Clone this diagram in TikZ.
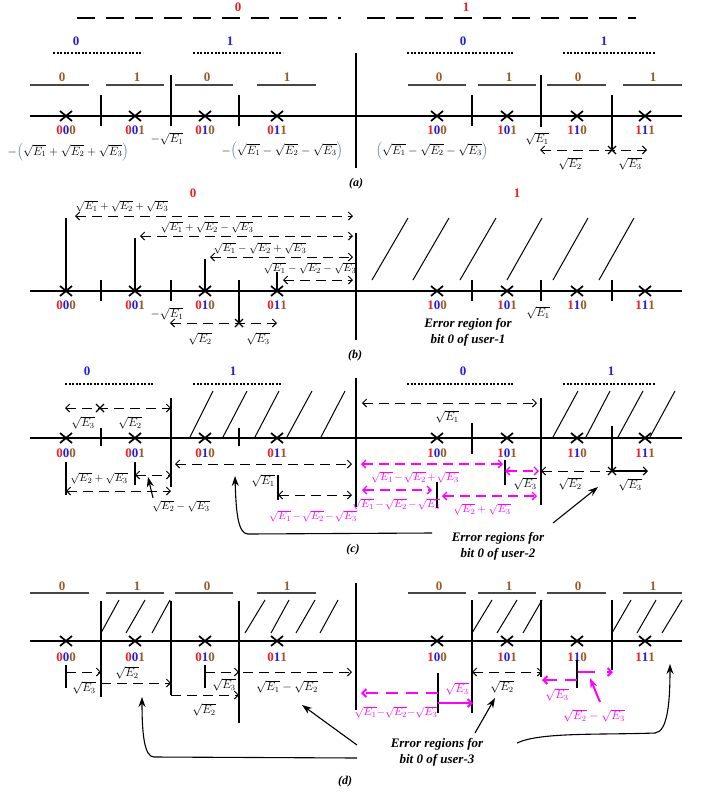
\documentclass[tikz,border=0pt]{standalone}
\usepackage{fontspec}
\setmainfont{Liberation Serif}
\usetikzlibrary{arrows.meta}
\definecolor{cR}{RGB}{235,30,35}
\definecolor{cB}{RGB}{30,30,230}
\definecolor{cBr}{RGB}{150,90,40}
\definecolor{cM}{RGB}{255,0,255}
\definecolor{cG}{RGB}{70,70,70}
\definecolor{cPar}{RGB}{90,110,160}
\newcommand{\tri}[3]{\textcolor{cR}{#1}\textcolor{cB}{#2}\textcolor{cBr}{#3}}
\newcommand{\sq}[1]{\sqrt{E_{#1}}}
\newcommand{\Lpar}{\textcolor{cPar}{\Big(}}
\newcommand{\Rpar}{\textcolor{cPar}{\Big)}}
\newcommand{\mm}{\mskip2mu{-}\mskip2mu}
\newcommand{\pp}{\mskip2mu{+}\mskip2mu}
\tikzset{
 ax/.style={line width=1.5pt},
 cl/.style={line width=1.8pt},
 tk/.style={line width=1.2pt},
 vl/.style={line width=1.3pt},
 hat/.style={line width=1pt},
 dotl/.style={line width=1.4pt, dash pattern=on 2pt off 1.6pt},
 topd/.style={line width=2pt, dash pattern=on 18pt off 11pt},
 gl/.style={cG, line width=1.6pt},
 da/.style={line width=1pt, dash pattern=on 10pt off 6pt},
 mda/.style={cM, line width=1.3pt, dash pattern=on 10pt off 6pt},
 mdb/.style={cM, line width=2pt, dash pattern=on 12pt off 8pt},
 msol/.style={cM, line width=2pt},
 dig/.style={font=\fontsize{13}{13}\selectfont\bfseries, inner sep=0},
 ml/.style={font=\fontsize{12}{12}\selectfont, inner sep=0},
 mls/.style={font=\fontsize{11}{11}\selectfont, inner sep=0},
 ttl/.style={font=\fontsize{13}{16}\selectfont\bfseries\itshape, inner sep=0, align=center},
 capl/.style={font=\fontsize{12}{12}\selectfont\bfseries\itshape, inner sep=0},
 sarr/.style={line width=1.1pt, -{Stealth[length=10pt,width=7pt]}},
 xm/.pic={\draw[line width=1.7pt] (-6,-5)--(6,5) (-6,5)--(6,-5);},
 xs/.pic={\draw[line width=1.1pt] (-4,-4)--(4,4) (-4,4)--(4,-4);}
}
\begin{document}
\begin{tikzpicture}[x=1pt,y=-1pt,>={Straight Barb[length=4pt,width=8pt]}]
\useasboundingbox (0,0) rectangle (702,793);

% ================= panel (a) =================
\draw[topd] (77,18) -- (341,18);
\draw[topd] (367,18) -- (636,18);
\node[dig,text=cR] (a0) at (238,7) {0};
\node[dig,text=cR] (a1) at (466,7) {1};
\foreach \x/\t [count=\i] in {76/0,230/1,463/0,604/1}
  \node[dig,text=cB] (ab\i) at (\x,41) {\t};
\draw[dotl] (53,53)--(143,53) (193,53)--(283,53) (407,53)--(513,53) (563,53)--(655,53);
\foreach \x/\t [count=\i] in {62/0,137/1,207/0,287/1,439/0,509/1,578/0,653/1}
  \node[dig,text=cBr] (ac\i) at (\x,77) {\t};
\draw[gl] (30,85)--(89,85) (106,85)--(164,85) (175,85)--(233,85) (257,85)--(316,85)
          (408,85)--(466,85) (478,85)--(536,85) (547,85)--(606,85) (623,85)--(682,85);
\draw[ax] (30,116) -- (682,116);
\draw[cl] (356,53) -- (356,168);
\draw[tk] (101,95)--(101,126) (171,75)--(171,126) (239,95)--(239,126)
          (472,95)--(472,126) (541,75)--(541,127) (612,95)--(612,150);
\foreach \x in {66,135,205,277,437,507,577,645} \pic at (\x,116) {xm};
\foreach \x/\a/\b/\c [count=\i] in {66/0/0/0,135/0/0/1,205/0/1/0,277/0/1/1,437/1/0/0,507/1/0/1,577/1/1/0,645/1/1/1}
  \node[dig] (ad\i) at (\x,130) {\tri\a\b\c};
\node[ml] (am1) at (68,152) {$-\Lpar\sq1+\sq2+\sq3\Rpar$};
\node[ml] (am2) at (167,139) {$-\sq1$};
\node[ml] (am3) at (282,151) {$-\Lpar\sq1-\sq2-\sq3\Rpar$};
\node[ml] (am4) at (432,151) {$\Lpar\sq1-\sq2-\sq3\Rpar$};
\node[ml] (am5) at (537,139) {$\sq1$};
\coordinate (aL) at (540,150); \coordinate (aM) at (612,150); \coordinate (aR) at (647,150);
\draw[da,<->] (aL) -- (aR);
\pic at (aM) {xs};
\node[ml] (am6) at (570,164) {$\sq2$};
\node[ml] (am7) at (630,164) {$\sq3$};
\node[capl] (capa) at (356,184) {(a)};

% ================= panel (b) =================
\node[dig,text=cR] (b0) at (193,193) {0};
\node[dig,text=cR] (b1) at (517,193) {1};
\draw[ax] (30,291) -- (682,291);
\draw[cl] (356,233) -- (356,340);
\draw[tk] (101,280)--(101,301) (171,280)--(171,301) (239,280)--(239,324)
          (472,280)--(472,301) (541,280)--(541,301) (612,280)--(612,301);
\foreach \x in {66,135,205,277,437,507,577,645} \pic at (\x,291) {xm};
\draw[vl] (66,218)--(66,291) (135,238)--(135,291) (205,259)--(205,291) (277,272)--(277,291);
\draw[da,<->] (75,216) -- (353,216);
\draw[da,<->] (140,236) -- (353,236);
\draw[da,<->] (210,257) -- (353,257);
\draw[da,<->] (283,280) -- (353,280);
\node[mls] (bm1) at (122,206) {$\sq1+\sq2+\sq3$};
\node[mls] (bm2) at (207,227) {$\sq1+\sq2-\sq3$};
\node[mls] (bm3) at (260,248) {$\sq1-\sq2+\sq3$};
\node[mls] (bm4) at (310,268) {$\sq1-\sq2-\sq3$};
\foreach \x/\a/\b/\c [count=\i] in {66/0/0/0,135/0/0/1,205/0/1/0,277/0/1/1,437/1/0/0,507/1/0/1,577/1/1/0,645/1/1/1}
  \node[dig] (bd\i) at (\x,305) {\tri\a\b\c};
\node[ml] (bm5) at (167,314) {$-\sq1$};
\draw[da,<->] (170,323) -- (277,323);
\pic at (239,323) {xs};
\node[ml] (bm6) at (200,339) {$\sq2$};
\node[ml] (bm7) at (258,339) {$\sq3$};
\node[ml] (bm8) at (538,313) {$\sq1$};
\foreach \b/\t in {372/408,413/449,460/496,507/542,553/588,599/634}
  \draw[hat] (\b,280) -- (\t,218);
\node[ttl] (bt) at (468,332) {Error region for\\bit 0 of user-1};
\node[capl] (capb) at (355,356) {(b)};

% ================= panel (c) =================
\foreach \x/\t [count=\i] in {87/0,233/1,463/0,611/1}
  \node[dig,text=cB] (cb\i) at (\x,371) {\t};
\draw[dotl] (65,384)--(155,384) (193,384)--(283,384) (407,384)--(513,384) (563,384)--(655,384);
\draw[ax] (30,438) -- (682,438);
\draw[cl] (356,378) -- (356,507);
\draw[tk] (101,428)--(101,446) (171,398)--(171,487) (239,428)--(239,446)
          (472,423)--(472,454) (541,398)--(541,505) (612,426)--(612,471);
\foreach \b/\t in {190/213,223/247,255/279,287/312,321/345,553/578,586/610,618/643,650/675}
  \draw[hat] (\b,437) -- (\t,391);
\foreach \x in {66,135,205,277,437,507,577,645} \pic at (\x,438) {xm};
\foreach \x/\a/\b/\c [count=\i] in {66/0/0/0,135/0/0/1,205/0/1/0,277/0/1/1,437/1/0/0,507/1/0/1,577/1/1/0,645/1/1/1}
  \node[dig] (cd\i) at (\x,453) {\tri\a\b\c};
% top arrows
\draw[da,<->] (65,408) -- (171,408);
\pic at (100,408) {xs};
\node[ml] (cm1) at (83,423) {$\sq3$};
\node[ml] (cm2) at (130,423) {$\sq2$};
\draw[da,<->] (362,403) -- (537,403);
\node[ml] (cm3) at (447,417) {$\sq1$};
% bottom left
\draw[vl] (66,462)--(66,495) (135,462)--(135,485);
\node[mls] (cm4) at (99,478) {$\sq2+\sq3$};
\draw[da,<->] (66,491) -- (171,491);
\draw[da,<->] (135,475) -- (171,475);
\node[mls] (cm5) at (181,506) {$\sq2-\sq3$};
\draw[sarr] (153,498) -- (148,477);
\draw[da,<->] (175,464) -- (352,464);
\node[ml] (cm6) at (263,481) {$\sq1$};
\draw[vl] (278,475) -- (278,500);
\draw[da,<->] (278,495) -- (352,495);
\node[mls,text=cM] (cm7) at (313,516) {$\sq1\mm\sq2\mm\sq3$};
\draw[sarr] (432,533) -- (248,534) .. controls (238,534) and (236,512) .. (235,476);
% right magenta
\draw[mda,<->] (361,464) -- (503,464);
\node[mls,text=cM] (cm8) at (415,477) {$\sq1\mm\sq2\pp\sq3$};
\draw[vl] (505,460) -- (505,485);
\draw[mda,<->] (505,471) -- (539,471);
\node[ml] (cm9) at (525,484) {$\sq3$};
\draw[da,<-] (541,471) -- (612,471);
\draw[line width=1.2pt,->] (612,471) -- (648,471);
\pic at (612,471) {xs};
\node[ml] (cm10) at (570,484) {$\sq2$};
\node[ml] (cm11) at (630,485) {$\sq3$};
\draw[mda,<->] (362,490) -- (432,490);
\draw[vl] (437,482) -- (437,508);
\node[mls,text=cM] (cm12) at (396,504) {$\sq1\mm\sq2\mm\sq3$};
\draw[mda,<->] (442,496) -- (537,496);
\node[mls,text=cM] (cm13) at (482,509) {$\sq2+\sq3$};
\node[ttl] (ct) at (498,546) {Error regions for\\bit 0 of user-2};
\draw[sarr] (553,523) -- (598,487);
\node[capl] (capc) at (353,550) {(c)};

% ================= panel (d) =================
\foreach \x/\t [count=\i] in {62/0,137/1,207/0,287/1,439/0,509/1,578/0,653/1}
  \node[dig,text=cBr] (dc\i) at (\x,586) {\t};
\draw[gl] (30,593)--(89,593) (106,593)--(164,593) (175,593)--(233,593) (257,593)--(316,593)
          (408,593)--(466,593) (478,593)--(536,593) (547,593)--(606,593) (623,593)--(682,593);
\draw[ax] (30,641) -- (682,641);
\draw[cl] (356,583) -- (356,710);
\draw[tk] (101,601)--(101,697) (171,601)--(171,695) (239,601)--(239,723)
          (472,600)--(472,713) (541,600)--(541,677) (612,600)--(612,670);
\foreach \b/\t in {101/119,126/145,152/170,245/265,271/289,296/315,320/338,472/492,497/517,523/542,612/631,637/656,662/682}
  \draw[hat] (\b,633) -- (\t,600);
\foreach \x in {66,135,205,277,437,507,577,645} \pic at (\x,641) {xm};
\foreach \x/\a/\b/\c [count=\i] in {66/0/0/0,135/0/0/1,205/0/1/0,277/0/1/1,437/1/0/0,507/1/0/1,577/1/1/0,645/1/1/1}
  \node[dig] (dd\i) at (\x,657) {\tri\a\b\c};
% left arrows
\draw[vl] (66,665)--(66,688) (205,665)--(205,688);
\draw[da,->] (66,672) -- (101,672);
\node[ml] (dm1) at (84,688) {$\sq3$};
\draw[da,->] (101,683) -- (171,683);
\node[ml] (dm2) at (127,673) {$\sq2$};
\draw[da,->] (171,695) -- (239,695);
\node[ml] (dm3) at (204,710) {$\sq2$};
\draw[da,->] (205,672) -- (239,672);
\node[ml] (dm4) at (224,685) {$\sq3$};
\draw[da,->] (243,672) -- (352,672);
\node[ml] (dm5) at (287,687) {$\sq1-\sq2$};
\draw[sarr] (357,758) -- (154,757) .. controls (144,757) and (142,732) .. (142,697);
\draw[sarr] (357,745) -- (302,705);
\node[ttl] (dt) at (437,752) {Error regions for\\bit 0 of user-3};
\draw[sarr] (475,733) -- (495,698);
\draw[sarr] (517,743) .. controls (540,732) and (600,735) .. (655,733) .. controls (668,732) and (670,700) .. (670,664);
\node[capl] (capd) at (345,782) {(d)};
% right arrows
\draw[da,<->] (472,672) -- (542,672);
\node[ml] (dm6) at (502,687) {$\sq2$};
\draw[vl] (438,673) -- (438,713);
\draw[mdb,->] (438,693) -- (361,693);
\node[mls,text=cM] (dm7) at (396,712) {$\sq1{-}\sq2{-}\sq3$};
\draw[msol,->] (438,703) -- (473,703);
\node[ml,text=cM] (dm8) at (457,689) {$\sq3$};
\draw[vl] (577,660) -- (577,688);
\draw[mdb,->] (577,680) -- (542,680);
\node[ml,text=cM] (dm9) at (557,695) {$\sq3$};
\draw[mdb,dash pattern=on 17pt off 12pt,->] (578,672) -- (613,672);
\node[ml,text=cM] (dm10) at (594,716) {$\sq2-\sq3$};
\draw[cM,line width=2pt,-{Stealth[length=10pt,width=7pt]}] (600,702) -- (590,678);
\end{tikzpicture}
\end{document}
